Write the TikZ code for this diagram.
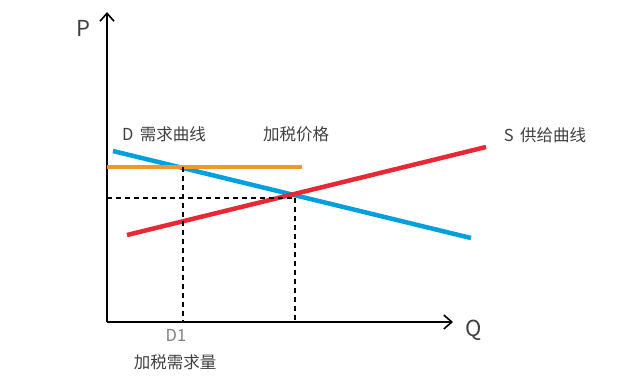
\documentclass[tikz,border=0pt]{standalone}
\usepackage{fontspec}
\setmainfont{Noto Sans CJK SC}
\usepackage{xcolor}
\usetikzlibrary{positioning, calc, arrows.meta}

\definecolor{demandblue}{RGB}{0,160,222}
\definecolor{supplyred}{RGB}{232,40,52}
\definecolor{taxorange}{RGB}{243,150,40}
\definecolor{labelgray}{RGB}{64,64,64}

\begin{document}
\begin{tikzpicture}[
x=1pt, y=-1pt,
axis/.style={-{Straight Barb[length=8pt,width=14pt]}, line width=1.6pt, black},
curve/.style={line width=4.5pt},
guide/.style={dashed, dash pattern=on 5pt off 4pt, line width=2pt, black},
lbl/.style={font=\fontsize{16.5}{19}\selectfont, text=labelgray, inner sep=0pt},
axislbl/.style={font=\fontsize{22}{26}\selectfont, text=labelgray, inner sep=0pt}
]
\useasboundingbox (0,0) rectangle (623,384);

% Axes
\coordinate (origin) at (107,322);
\coordinate (ptop) at (107,12);
\coordinate (qend) at (453,322);
\draw[axis] (origin) -- (ptop);
\draw[axis] (origin) -- (qend);
\node[axislbl] (plabel) at (83,28) {P};
\node[axislbl] (qlabel) at (474,330) {Q};

% Demand, supply and taxed price
\coordinate (dstart) at (113,151);
\coordinate (dend) at (471,238);
\coordinate (sstart) at (127,235);
\coordinate (send) at (486,147);
\coordinate (tstart) at (107,167);
\coordinate (tend) at (302,167);
\draw[curve, demandblue] (dstart) -- (dend);
\draw[curve, supplyred] (sstart) -- (send);
\draw[curve, taxorange] (tstart) -- (tend);

% Guide lines
\coordinate (taxpoint) at (183,167);
\coordinate (eqpoint) at (295,198);
\coordinate (eqprice) at (107,198);
\draw[guide] (eqprice) -- (eqpoint);
\draw[guide] (taxpoint) -- (taxpoint |- origin);
\draw[guide] (eqpoint) -- (eqpoint |- origin);

% Labels
\node[lbl] (dlabel) at (164,134) {D\, 需求曲线};
\node[lbl] (taxprice) at (296,134) {加税价格};
\node[lbl] (slabel) at (545,135) {S\, 供给曲线};
\node[lbl, text=gray] (d1) at (176,335) {D1};
\node[lbl] (taxdemand) at (175,362) {加税需求量};

\end{tikzpicture}
\end{document}
